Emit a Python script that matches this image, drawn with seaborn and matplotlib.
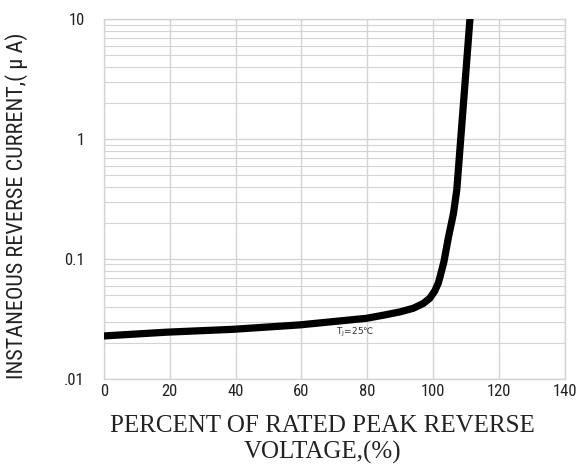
import matplotlib
matplotlib.use("Agg")
import matplotlib.pyplot as plt
from matplotlib import font_manager
import seaborn as sns
import pandas as pd
from matplotlib.ticker import LogLocator, FixedLocator, FixedFormatter, NullFormatter

# Data
voltage_pct = [0, 19, 39.3, 59.6, 79.8, 85, 90, 94, 97, 99, 100.5, 101.6, 102.5, 103.3, 104.7, 106.2, 107.2, 108.4, 111.2]
reverse_current = [0.0228, 0.0245, 0.0259, 0.0282, 0.0320, 0.0340, 0.0362, 0.0388, 0.0425, 0.047, 0.054, 0.063, 0.078, 0.095, 0.153, 0.24, 0.376, 1.0, 10.0]

x_ticks = [0, 20, 40, 60, 80, 100, 120, 140]
y_ticks = [0.01, 0.1, 1, 10]
y_tick_labels = [".01", "0.1", "1", "10"]

df = pd.DataFrame({"v": voltage_pct, "i": reverse_current})

sns.set_style("white")
names = {f.name for f in font_manager.fontManager.ttflist}
narrow = next((n for n in ["Liberation Sans Narrow", "Arial Narrow", "Roboto Condensed"] if n in names),
              "Liberation Sans")
plt.rcParams['font.family'] = [narrow, 'Liberation Sans', 'DejaVu Sans']

fig = plt.figure(figsize=(5.84, 4.66), dpi=100)
ax = fig.add_axes([0.178, 0.187, 0.789, 0.772])

sns.lineplot(data=df, x="v", y="i", ax=ax, color="black", linewidth=5.2,
             solid_capstyle="round", solid_joinstyle="round", zorder=5)

ax.set_yscale("log")
ax.set_xlim(0, 140)
ax.set_ylim(0.01, 10)

ax.xaxis.set_major_locator(FixedLocator(x_ticks))
ax.yaxis.set_major_locator(FixedLocator(y_ticks))
ax.yaxis.set_major_formatter(FixedFormatter(y_tick_labels))
ax.yaxis.set_minor_locator(LogLocator(base=10, subs=range(2, 10)))
ax.yaxis.set_minor_formatter(NullFormatter())

grid_color = "#d4d4d4"
ax.grid(True, which="major", axis="both", color=grid_color, linewidth=1.0)
ax.grid(True, which="minor", axis="y", color=grid_color, linewidth=0.8)
for s in ax.spines.values():
    s.set_color(grid_color)
    s.set_linewidth(1.0)

ax.tick_params(axis="both", which="both", length=0)
ax.tick_params(axis="x", labelsize=12, pad=4, colors="#222222")
ax.tick_params(axis="y", labelsize=12, pad=14, colors="#222222")

ax.set_xlabel("PERCENT OF RATED PEAK REVERSE\nVOLTAGE,(%)", family=["Liberation Serif", "DejaVu Serif"],
              fontsize=18, linespacing=1.22, color="#222222")
ax.xaxis.set_label_coords(0.475, -0.1)
ax.set_ylabel("INSTANEOUS REVERSE CURRENT,( μ A)", fontsize=16, color="#222222")
ax.yaxis.set_label_coords(-0.165, 0.48)

ax.text(70.5, 0.0278, "T$_\\mathregular{J}$=25℃", fontsize=6.5, color="#333333",
        family=["DejaVu Sans"], va="top", ha="left")

fig.savefig("out.png", dpi=100)
